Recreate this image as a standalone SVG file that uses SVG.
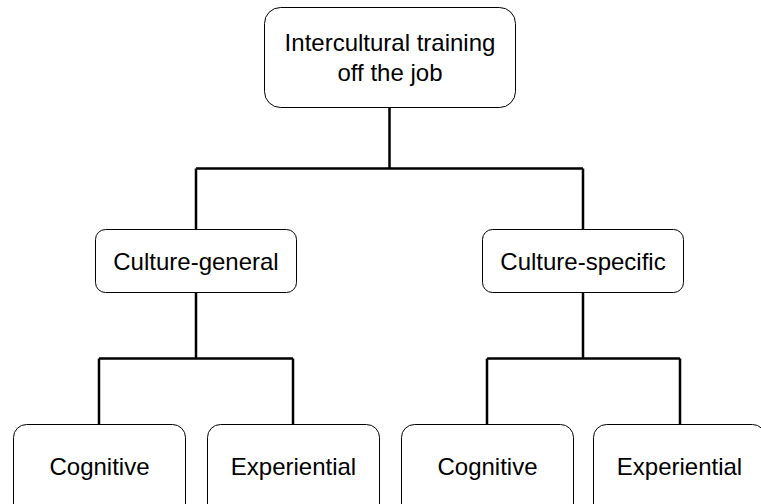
<svg xmlns="http://www.w3.org/2000/svg" width="761" height="504" viewBox="0 0 761 504">
<style>
.box{fill:#fff;stroke:#000;stroke-width:1}
.lbl{font-family:"Liberation Sans",Arial,sans-serif;font-size:24px;fill:#000;text-anchor:middle}
.conn{fill:none;stroke:#000;stroke-width:2.5}
</style>
<rect width="761" height="504" fill="#fff"/>
<g id="connectors" class="conn">
<path d="M389.5,107 V168.5 M196,168.5 H583 M196,168.5 V229 M583,168.5 V229"/>
<path d="M196,292 V358.5 M99,358.5 H293 M99,358.5 V424 M293,358.5 V424"/>
<path d="M583,292 V358.5 M487,358.5 H680 M487,358.5 V424 M680,358.5 V424"/>
</g>
<g id="root">
<rect class="box" x="264.5" y="7.5" width="251" height="100" rx="16"/>
<text class="lbl" x="390" y="51">Intercultural training</text>
<text class="lbl" x="390" y="81">off the job</text>
</g>
<g id="general">
<rect class="box" x="95.5" y="229.5" width="201" height="63" rx="10"/>
<text class="lbl" x="196" y="270">Culture-general</text>
</g>
<g id="specific">
<rect class="box" x="482.5" y="229.5" width="201" height="63" rx="10"/>
<text class="lbl" x="583" y="270">Culture-specific</text>
</g>
<g id="gen-cognitive">
<rect class="box" x="13.5" y="424.5" width="172" height="100" rx="13"/>
<text class="lbl" x="99.5" y="475">Cognitive</text>
</g>
<g id="gen-experiential">
<rect class="box" x="207.5" y="424.5" width="172" height="100" rx="13"/>
<text class="lbl" x="293.5" y="475">Experiential</text>
</g>
<g id="spec-cognitive">
<rect class="box" x="401.5" y="424.5" width="172" height="100" rx="13"/>
<text class="lbl" x="487.5" y="475">Cognitive</text>
</g>
<g id="spec-experiential">
<rect class="box" x="593.5" y="424.5" width="172" height="100" rx="13"/>
<text class="lbl" x="679.5" y="475">Experiential</text>
</g>
</svg>
